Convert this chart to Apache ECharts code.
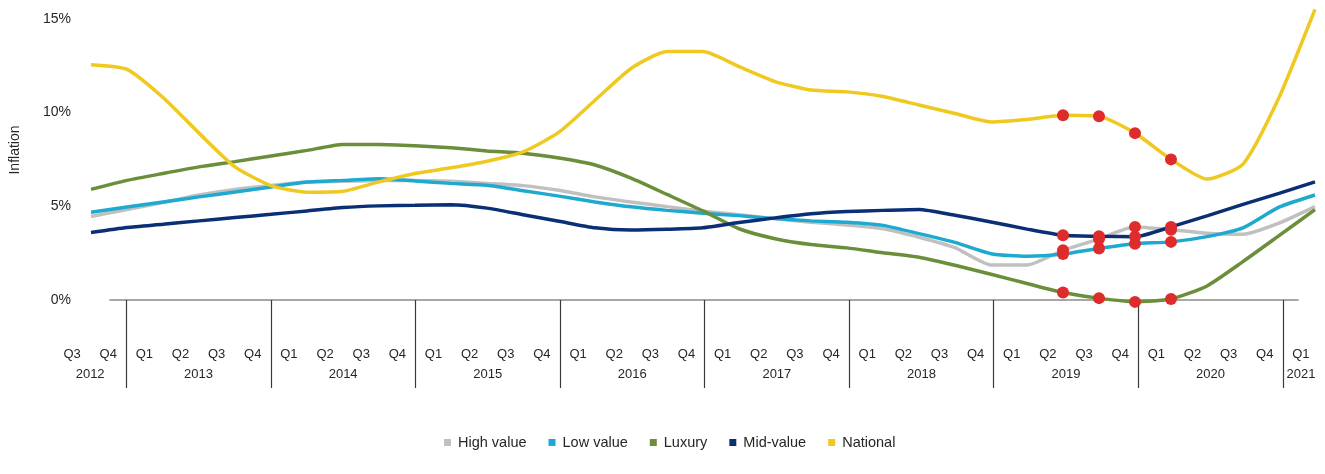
<!DOCTYPE html>
<html>
<head>
<meta charset="utf-8">
<script src="https://cdn.jsdelivr.net/npm/echarts@6/dist/echarts.min.js"></script>
<style>
html,body{margin:0;padding:0;background:#fff;}
#chart{width:1325px;height:474px;}
</style>
</head>
<body>
<div id="chart"></div>
<script>
// ---- Data ----
const periods = [
  '2012 Q3','2012 Q4',
  '2013 Q1','2013 Q2','2013 Q3','2013 Q4',
  '2014 Q1','2014 Q2','2014 Q3','2014 Q4',
  '2015 Q1','2015 Q2','2015 Q3','2015 Q4',
  '2016 Q1','2016 Q2','2016 Q3','2016 Q4',
  '2017 Q1','2017 Q2','2017 Q3','2017 Q4',
  '2018 Q1','2018 Q2','2018 Q3','2018 Q4',
  '2019 Q1','2019 Q2','2019 Q3','2019 Q4',
  '2020 Q1','2020 Q2','2020 Q3','2020 Q4',
  '2021 Q1'
];
const yearLabels = ['2012','2013','2014','2015','2016','2017','2018','2019','2020','2021'];
const yTickLabels = ['0%','5%','10%','15%'];

const highValue = [4.45,4.83,5.2,5.6,5.9,6.1,6.29,6.33,6.38,6.38,6.33,6.22,6.1,5.85,5.5,5.23,4.98,4.74,4.55,4.34,4.15,4.0,3.8,3.35,2.79,1.87,1.87,2.65,3.25,3.9,3.75,3.56,3.51,4.1,4.98];
const lowValue  = [4.68,4.96,5.23,5.5,5.76,6.03,6.29,6.38,6.47,6.35,6.22,6.12,5.83,5.54,5.23,4.97,4.78,4.63,4.5,4.34,4.22,4.15,3.98,3.54,3.07,2.47,2.33,2.45,2.75,3.0,3.1,3.38,3.85,4.95,5.6];
const luxury    = [5.9,6.38,6.75,7.1,7.38,7.68,7.98,8.3,8.3,8.23,8.12,7.95,7.83,7.57,7.2,6.5,5.63,4.75,3.8,3.27,2.96,2.78,2.52,2.28,1.85,1.37,0.88,0.4,0.1,-0.1,0.05,0.75,2.05,3.43,4.82];
const midValue  = [3.6,3.87,4.04,4.22,4.4,4.57,4.75,4.93,5.02,5.05,5.08,4.9,4.55,4.2,3.85,3.73,3.77,3.85,4.13,4.38,4.6,4.72,4.78,4.83,4.52,4.16,3.78,3.45,3.4,3.37,3.9,4.49,5.1,5.69,6.3];
const national  = [12.55,12.3,10.8,8.9,7.1,6.1,5.75,5.8,6.3,6.75,7.05,7.4,7.9,8.95,10.65,12.35,13.25,13.25,12.45,11.65,11.2,11.1,10.85,10.4,9.95,9.5,9.63,9.85,9.8,8.9,7.5,6.45,7.25,10.8,15.5];
const highlightPeriods = ['2019 Q2','2019 Q3','2019 Q4','2020 Q1'];

const seriesNames = ['High value','Low value','Luxury','Mid-value','National'];
const seriesColors = ['#c0c0c0','#1eaad0','#6a8e3a','#0a2f75','#efc91f'];
const seriesData = [highValue, lowValue, luxury, midValue, national];

// ---- Derived helpers ----
const quarterLabels = periods.map(p => p.split(' ')[1]);
const periodYears = periods.map(p => p.split(' ')[0]);
// year axis: 2 points per quarter band (boundaries + centres)
const yearAxisData = new Array(periods.length * 2 + 1).fill('');
const yearBoundary = new Array(periods.length * 2 + 1).fill(false);
yearLabels.forEach(y => {
  const idx = periodYears.map((v,i)=> v===y ? i : -1).filter(i=>i>=0);
  const a = idx[0], b = idx[idx.length-1];
  yearAxisData[a + b + 1] = y;
  if (a > 0) yearBoundary[2*a] = true;
});
const hiIdx = highlightPeriods.map(p => periods.indexOf(p));
const dots = [];
seriesData.forEach(arr => hiIdx.forEach(i => dots.push([i, arr[i]])));

const textColor = '#262626';
const chart = echarts.init(document.getElementById('chart'));
chart.setOption({
  animation: false,
  backgroundColor: '#fff',
  grid: [
    {left: 86, right: 10, top: 0, height: 300},
    {left: 54, right: 6, top: 300, height: 0},
    {left: 54, right: 6, top: 300, height: 0},
    {left: 110, right: 27, top: 300, height: 0}
  ],
  xAxis: [
    {type: 'category', gridIndex: 0, data: periods, boundaryGap: false, show: false},
    {type: 'category', gridIndex: 1, data: quarterLabels, boundaryGap: true,
     axisLine: {show: false}, axisTick: {show: false},
     axisLabel: {interval: 0, margin: 48, fontSize: 13, color: textColor, fontFamily: 'Liberation Sans'}},
    {type: 'category', gridIndex: 2, data: yearAxisData, boundaryGap: false,
     axisLine: {show: false},
     axisTick: {show: true, length: 88, interval: (i) => yearBoundary[i], lineStyle: {color: '#3a3a3a', width: 1.2}},
     axisLabel: {interval: 0, margin: 68, fontSize: 13, color: textColor, fontFamily: 'Liberation Sans'}},
    {type: 'value', gridIndex: 3, min: 0, max: 1,
     axisLine: {show: true, lineStyle: {color: '#8a8a8a', width: 1.5}},
     axisTick: {show: false}, axisLabel: {show: false}, splitLine: {show: false}}
  ],
  yAxis: [
    {type: 'value', gridIndex: 0, min: 0, max: 16, interval: 5,
     name: 'Inflation', nameLocation: 'middle', nameRotate: 90, nameGap: 69,
     nameTextStyle: {fontSize: 14, color: textColor, fontFamily: 'Liberation Sans'},
     axisLine: {show: false}, axisTick: {show: false}, splitLine: {show: false},
     axisLabel: {margin: 20, fontSize: 14, color: textColor, fontFamily: 'Liberation Sans',
       formatter: v => { const k = Math.round(v/5); return (v % 5 === 0 && yTickLabels[k]) ? yTickLabels[k] : ''; }}},
    {type: 'value', gridIndex: 1, show: false},
    {type: 'value', gridIndex: 2, show: false},
    {type: 'value', gridIndex: 3, show: false}
  ],
  legend: {
    data: seriesNames,
    left: 439,
    top: 430,
    icon: 'rect',
    itemWidth: 7,
    itemHeight: 7,
    itemGap: 22,
    textStyle: {fontSize: 14.5, color: textColor, fontFamily: 'Liberation Sans', padding: [0,0,0,2]}
  },
  series: seriesNames.map((n, k) => ({
    name: n,
    type: 'line',
    xAxisIndex: 0, yAxisIndex: 0,
    data: seriesData[k],
    smooth: 0.2,
    showSymbol: false,
    symbol: 'none',
    clip: false,
    color: seriesColors[k],
    lineStyle: {width: 3.5, color: seriesColors[k]},
    z: 2 + k
  })).concat([{
    name: 'highlight',
    type: 'scatter',
    xAxisIndex: 0, yAxisIndex: 0,
    data: dots,
    symbolSize: 12,
    clip: false,
    itemStyle: {color: '#de2b2b', opacity: 1},
    z: 20
  }])
});
</script>
</body>
</html>
